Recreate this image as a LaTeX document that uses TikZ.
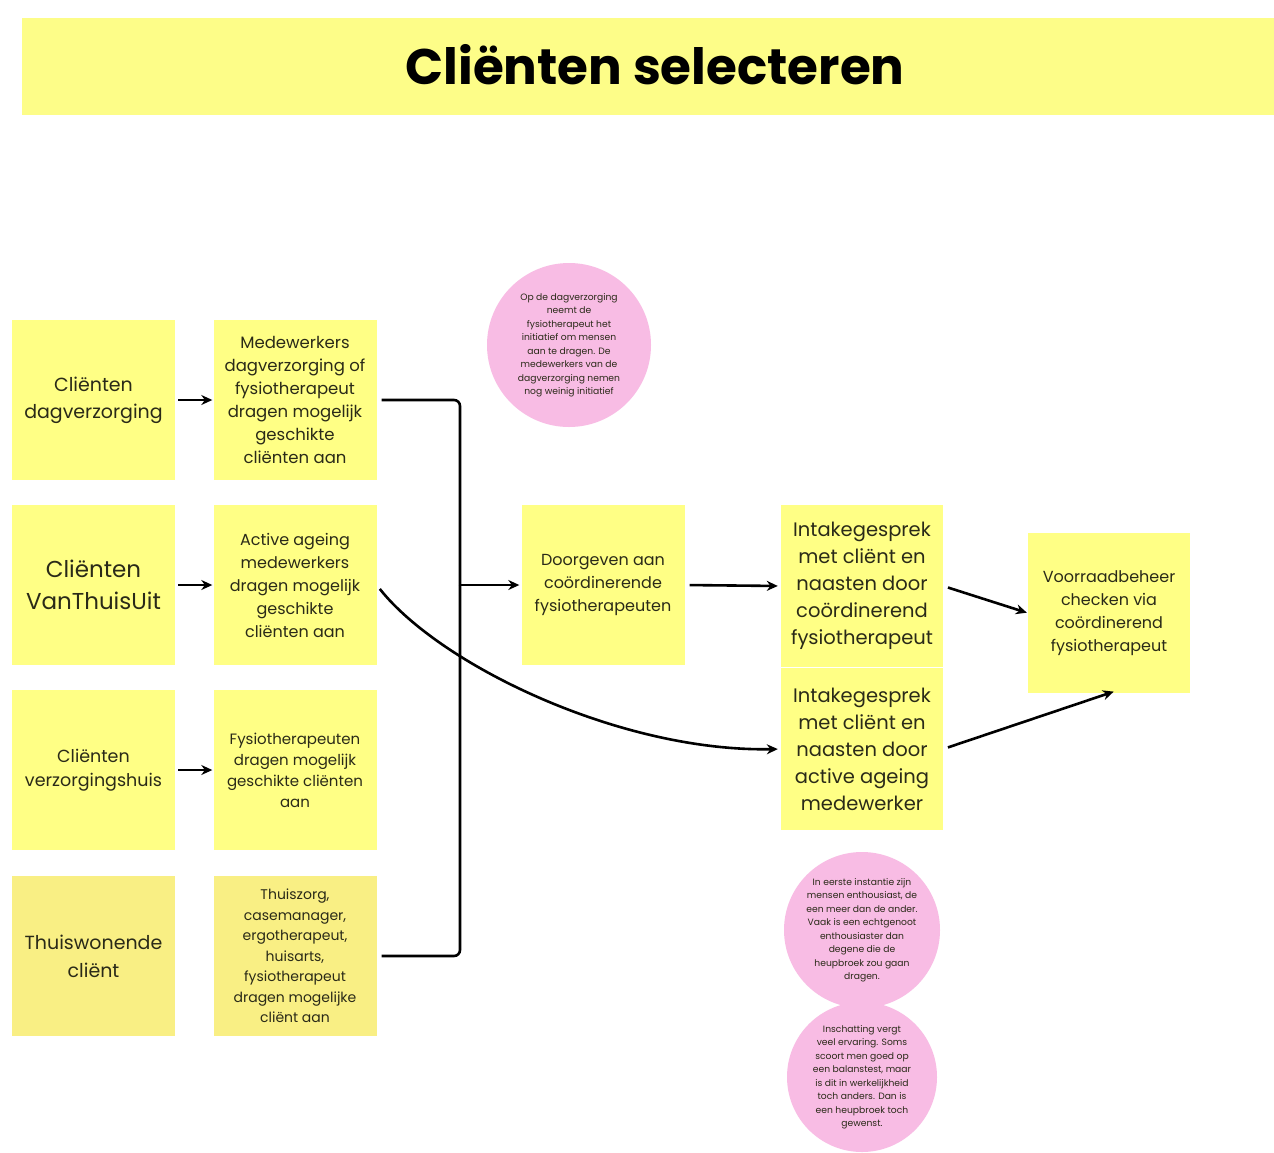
\documentclass[tikz,border=0pt]{standalone}
\usepackage{fontspec}
\setmainfont{Poppins}
\usetikzlibrary{arrows.meta}
\definecolor{note}{HTML}{FFFF85}
\definecolor{notedark}{HTML}{F9EF84}
\definecolor{banner}{HTML}{FDFD88}
\definecolor{memo}{HTML}{F8BCE4}
\definecolor{ink}{HTML}{2A2A18}
\newcommand{\fsz}[2]{\fontsize{#1}{#2}\selectfont}
\tikzset{
  sticky/.style={fill=note, draw=none, minimum width=163pt, minimum height=160pt,
    align=center, text=ink, inner sep=4pt},
  stickydark/.style={sticky, fill=notedark},
  memocircle/.style={circle, fill=memo, draw=none, align=center, text=ink,
    font=\fsz{9.2}{13.5}, inner sep=0pt},
  flow/.style={line width=2.6pt, draw=black, -{Stealth[length=11pt,width=10pt]}},
  wire/.style={line width=2.6pt, draw=black},
}
\begin{document}
\begin{tikzpicture}[x=1pt,y=-1pt]
\useasboundingbox (0,0) rectangle (1274,1152);
\fill[white] (0,0) rectangle (1274,1152);

% title banner
\fill[banner] (22,18) rectangle (1274,115);
\node[font=\fsz{50}{54}\bfseries] (title) at (655,65) {Cliënten selecteren};

% sources
\node[sticky, font=\fsz{19}{27}] (b1) at (93.5,400) {Cliënten\\dagverzorging};
\node[sticky, font=\fsz{23}{32}] (b2) at (93.5,585) {Cliënten\\VanThuisUit};
\node[sticky, font=\fsz{17.5}{24}] (b3) at (93.5,770) {Cliënten\\verzorgingshuis};
\node[stickydark, font=\fsz{19}{28}] (b4) at (93.5,956) {Thuiswonende\\cliënt};

% who proposes
\node[sticky, font=\fsz{16.5}{23}] (c1) at (295,400) {Medewerkers\\dagverzorging of\\fysiotherapeut\\dragen mogelijk\\geschikte\\cliënten aan};
\node[sticky, font=\fsz{16}{23}] (c2) at (295,585) {Active ageing\\medewerkers\\dragen mogelijk\\geschikte\\cliënten aan};
\node[sticky, font=\fsz{15}{21}] (c3) at (295,770) {Fysiotherapeuten\\dragen mogelijk\\geschikte cliënten\\aan};
\node[stickydark, font=\fsz{14}{20.5}] (c4) at (295,956) {Thuiszorg,\\casemanager,\\ergotherapeut,\\huisarts,\\fysiotherapeut\\dragen mogelijke\\cliënt aan};

% coordination
\node[sticky, font=\fsz{16}{23}] (d) at (603,585) {Doorgeven aan\\coördinerende\\fysiotherapeuten};
\node[sticky, minimum width=162pt, minimum height=162pt, font=\fsz{19.5}{27}] (e1) at (862,586) {Intakegesprek\\met cliënt en\\naasten door\\coördinerend\\fysiotherapeut};
\node[sticky, minimum width=162pt, minimum height=162pt, font=\fsz{19.5}{27}] (e2) at (862,749) {Intakegesprek\\met cliënt en\\naasten door\\active ageing\\medewerker};
\node[sticky, minimum width=162pt, font=\fsz{16}{23}] (f) at (1109,613) {Voorraadbeheer\\checken via\\coördinerend\\fysiotherapeut};

% notes
\node[memocircle, minimum size=164pt] (p1) at (569,345) {Op de dagverzorging\\neemt de\\fysiotherapeut het\\initiatief om mensen\\aan te dragen. De\\medewerkers van de\\dagverzorging nemen\\nog weinig initiatief};
\node[memocircle, minimum size=156pt] (p2) at (862,930) {In eerste instantie zijn\\mensen enthousiast, de\\een meer dan de ander.\\Vaak is een echtgenoot\\enthousiaster dan\\degene die de\\heupbroek zou gaan\\dragen.};
\node[memocircle, minimum size=150pt] (p3) at (862,1077) {Inschatting vergt\\veel ervaring. Soms\\scoort men goed op\\een balanstest, maar\\is dit in werkelijkheid\\toch anders. Dan is\\een heupbroek toch\\gewenst.};

% connectors
\coordinate (j) at (460,585);
\draw[flow, shorten <=3pt, shorten >=1pt] (b1.east) -- (c1.west);
\draw[flow, shorten <=3pt, shorten >=1pt] (b2.east) -- (c2.west);
\draw[flow, shorten <=3pt, shorten >=1pt] (b3.east) -- (c3.west);
\draw[wire, rounded corners=6pt, shorten <=5pt] (c1.east) -| (j);
\draw[wire, rounded corners=6pt, shorten <=5pt] (c4.east) -| (j);
\draw[flow, shorten >=2pt] (j) -- (d.west);
\draw[flow, shorten <=5pt, shorten >=3pt] (c2.east) .. controls (440,665) and (620,752) .. (e2.west);
\draw[flow, shorten <=5pt, shorten >=3pt] (d.east) -- (e1.west);
\draw[flow, shorten <=5pt, shorten >=1pt] (e1.east) -- (f.west);
\draw[flow, shorten <=5pt, shorten >=-5pt] (e2.east) -- (f.south);
\end{tikzpicture}
\end{document}
